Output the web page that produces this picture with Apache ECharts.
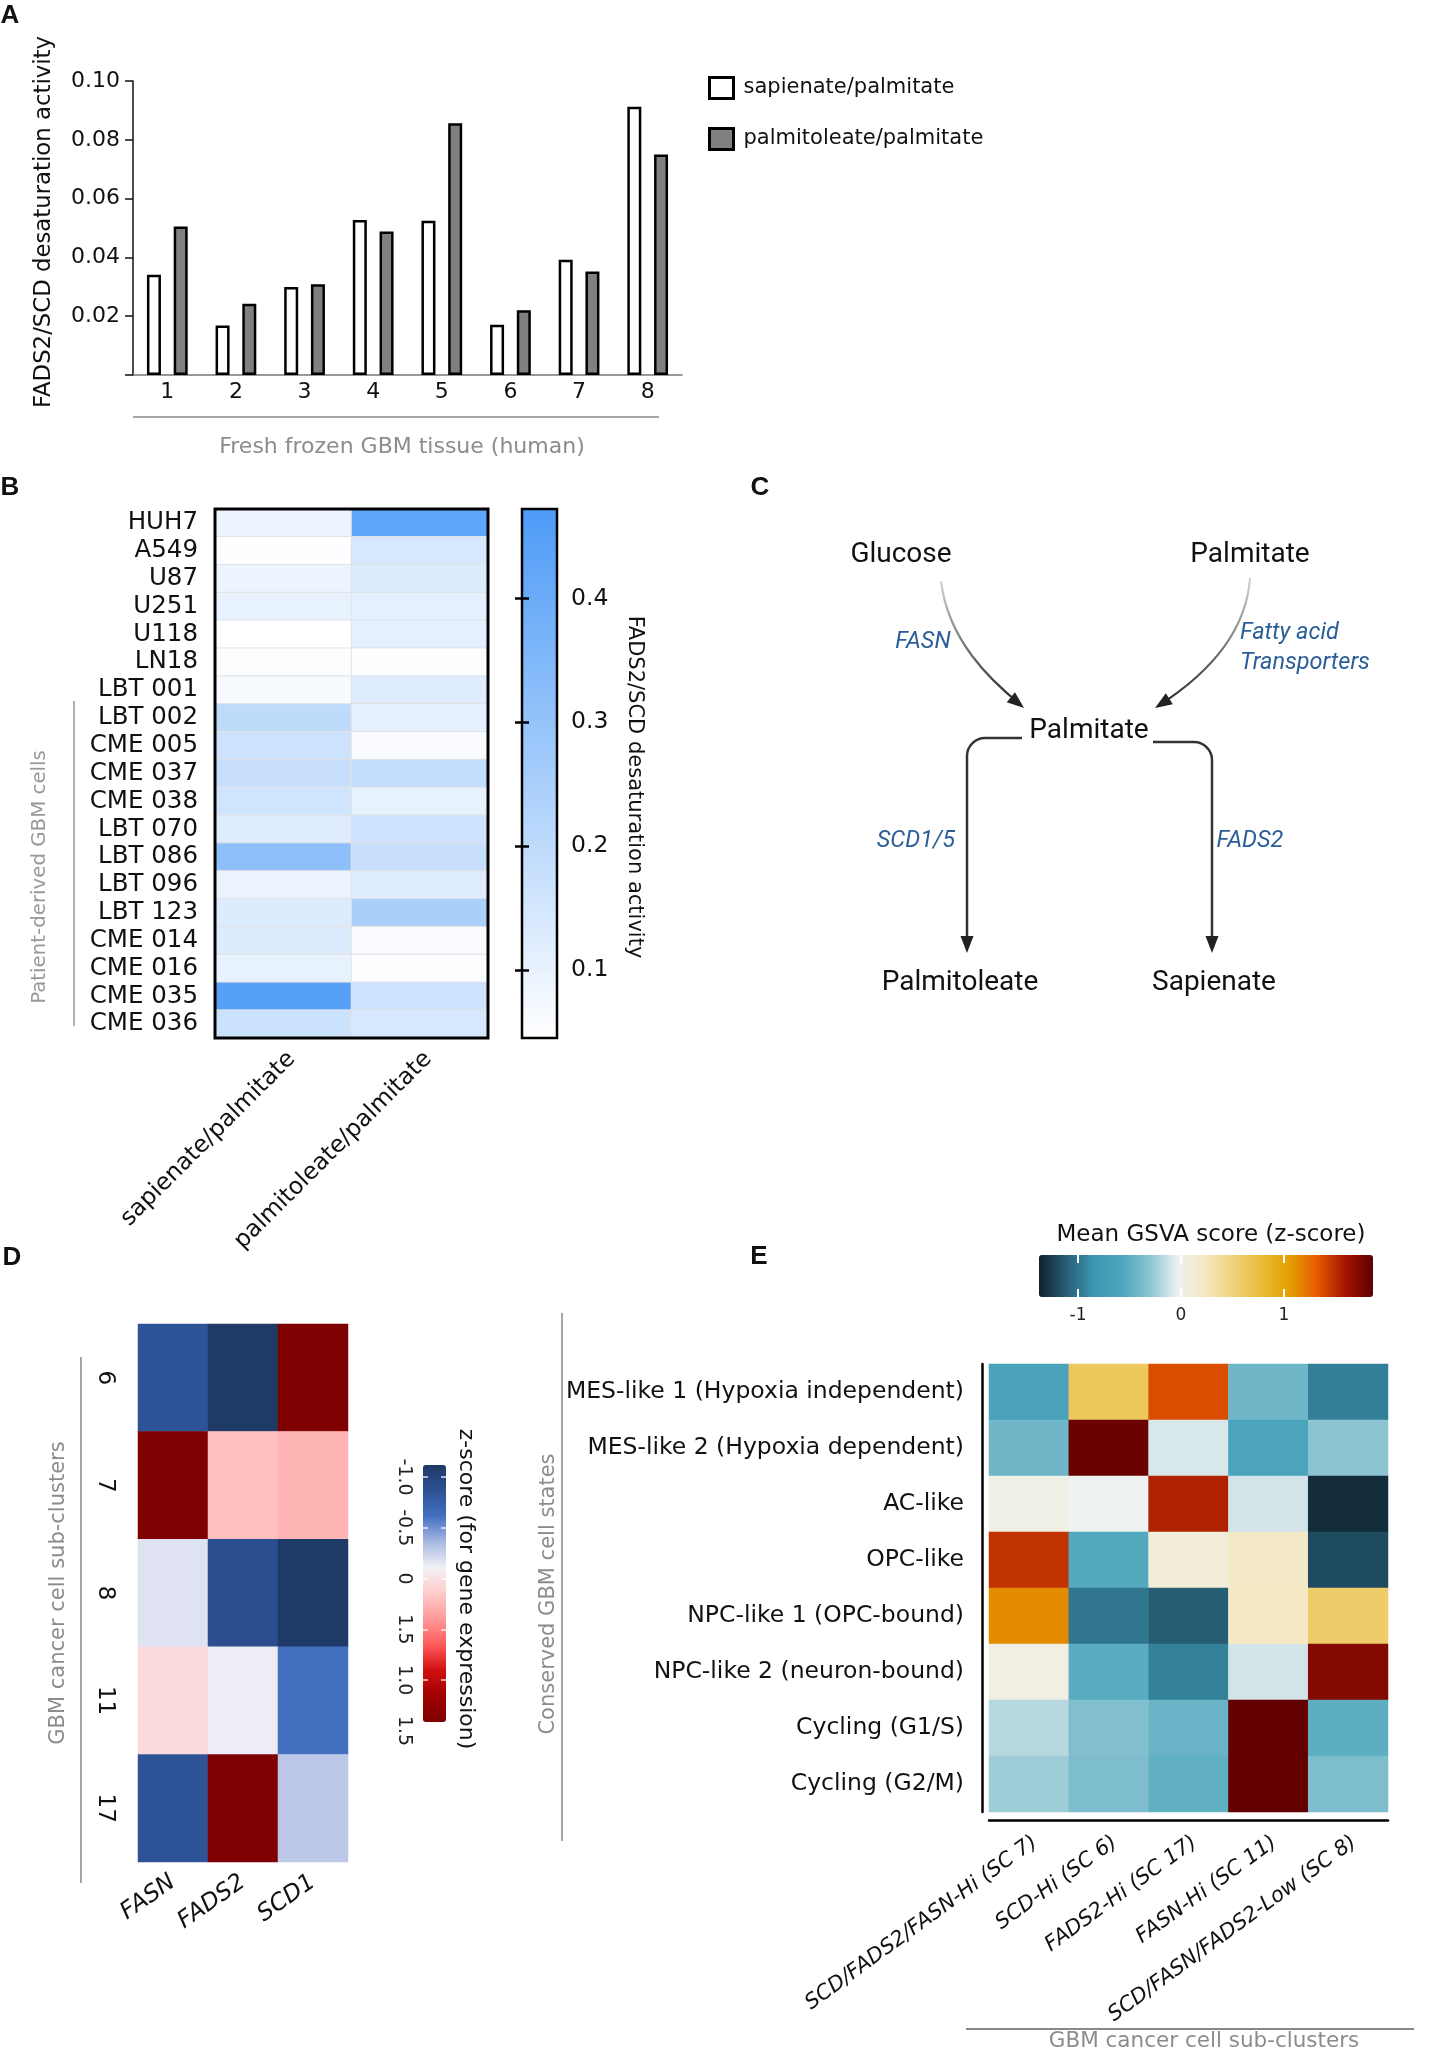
<!DOCTYPE html>
<html>
<head>
<meta charset="utf-8">
<script src="https://cdn.jsdelivr.net/npm/echarts@6/dist/echarts.min.js"></script>
<style>html,body{margin:0;padding:0;background:#fff;}#c{width:1438px;height:2054px;}</style>
</head>
<body>
<div id="c"></div>
<script>
// ---------------- DATA ----------------
// Panel A
const tissueSamples = ['1','2','3','4','5','6','7','8'];
const sapienateTissue = [0.0341, 0.0168, 0.0299, 0.0527, 0.0525, 0.0171, 0.0392, 0.0912];
const palmitoleateTissue = [0.0505, 0.0242, 0.0309, 0.0488, 0.0856, 0.0220, 0.0352, 0.0750];
const seriesNamesA = ['sapienate/palmitate', 'palmitoleate/palmitate'];

// Panel B
const cellLines = ['HUH7','A549','U87','U251','U118','LN18','LBT 001','LBT 002','CME 005','CME 037',
  'CME 038','LBT 070','LBT 086','LBT 096','LBT 123','CME 014','CME 016','CME 035','CME 036'];
const ratioNames = ['sapienate/palmitate', 'palmitoleate/palmitate'];
const sapienateCells = [0.090, 0.050, 0.090, 0.100, 0.045, 0.055, 0.065, 0.200, 0.165, 0.180,
  0.160, 0.125, 0.320, 0.095, 0.130, 0.130, 0.100, 0.450, 0.170];
const palmitoleateCells = [0.430, 0.145, 0.130, 0.110, 0.110, 0.050, 0.125, 0.110, 0.060, 0.190,
  0.100, 0.165, 0.180, 0.125, 0.250, 0.060, 0.050, 0.165, 0.145];

// Panel D
const geneNames = ['FASN', 'FADS2', 'SCD1'];
const subClustersD = ['6', '7', '8', '11', '17'];
const zFASN  = [-0.85, 1.41, -0.17, 0.04, -0.85];
const zFADS2 = [-1.10, 0.20, -0.90, -0.12, 1.41];
const zSCD1  = [1.41, 0.26, -1.10, -0.62, -0.29];
const zTickValues = [-1.0, -0.5, 0, 0.5, 1.0, 1.5];
const zTickLabels = ['-1.0', '-0.5', '0', '1.5', '1.0', '1.5'];

// Panel E
const cellStates = ['MES-like 1 (Hypoxia independent)', 'MES-like 2 (Hypoxia dependent)', 'AC-like',
  'OPC-like', 'NPC-like 1 (OPC-bound)', 'NPC-like 2 (neuron-bound)', 'Cycling (G1/S)', 'Cycling (G2/M)'];
const subClustersE = ['SCD/FADS2/FASN-Hi (SC 7)', 'SCD-Hi (SC 6)', 'FADS2-Hi (SC 17)',
  'FASN-Hi (SC 11)', 'SCD/FASN/FADS2-Low (SC 8)'];
const mesLike1   = [-0.62, 0.63, 1.37, -0.43, -0.96];
const mesLike2   = [-0.43, 1.82, -0.09, -0.60, -0.30];
const acLike     = [0.03, -0.03, 1.54, -0.11, -1.33];
const opcLike    = [1.47, -0.54, 0.10, 0.20, -1.20];
const npcLike1   = [1.13, -1.00, -1.12, 0.22, 0.58];
const npcLike2   = [0.06, -0.52, -0.95, -0.11, 1.72];
const cyclingG1S = [-0.18, -0.35, -0.45, 1.85, -0.50];
const cyclingG2M = [-0.25, -0.36, -0.49, 1.85, -0.36];
const gsvaTicks = [-1, 0, 1];

// ---------------- BUILD ----------------
const heatB = [];
cellLines.forEach((c, i) => { heatB.push([0, i, sapienateCells[i]]); heatB.push([1, i, palmitoleateCells[i]]); });
const heatD = [];
subClustersD.forEach((s, i) => { heatD.push([0, i, zFASN[i]], [1, i, zFADS2[i]], [2, i, zSCD1[i]]); });
const gsvaRows = [mesLike1, mesLike2, acLike, opcLike, npcLike1, npcLike2, cyclingG1S, cyclingG2M];
const heatE = [];
gsvaRows.forEach((row, i) => row.forEach((v, j) => heatE.push([j, i, v])));

const FONT = 'DejaVu Sans';
function txt(x, y, text, o) {
  o = o || {};
  return {
    type: 'text', x: x, y: y, rotation: o.rot || 0, z: 20,
    style: {
      text: text, fill: o.color || '#111', fontSize: o.size || 22, fontFamily: o.family || FONT,
      fontStyle: o.italic ? 'italic' : 'normal', fontWeight: o.bold ? 'bold' : 'normal',
      align: o.align || 'center', verticalAlign: 'middle'
    }
  };
}
function ln(x1, y1, x2, y2, color, w) {
  return { type: 'line', z: 20, shape: { x1: x1, y1: y1, x2: x2, y2: y2 }, style: { stroke: color, lineWidth: w } };
}
function head(tx, ty, fx, fy, len, w) {
  const a = Math.atan2(ty - fy, tx - fx);
  const bx = tx - len * Math.cos(a), by = ty - len * Math.sin(a);
  const px = -Math.sin(a) * w / 2, py = Math.cos(a) * w / 2;
  return { type: 'polygon', z: 21, shape: { points: [[tx, ty], [bx + px, by + py], [bx - px, by - py]] }, style: { fill: '#222' } };
}
function curve(x1, y1, c1x, c1y, c2x, c2y, x2, y2) {
  return {
    type: 'bezierCurve', z: 20,
    shape: { x1: x1, y1: y1, cpx1: c1x, cpy1: c1y, cpx2: c2x, cpy2: c2y, x2: x2, y2: y2 },
    style: {
      fill: 'none', lineWidth: 2.2,
      stroke: { type: 'linear', x: 0, y: 0, x2: 0, y2: 1, colorStops: [{ offset: 0, color: '#d8d8d8' }, { offset: 1, color: '#222' }] }
    }
  };
}
const ROBO = 'Roboto';
const BLUE = '#2b5e98';
const gray = '#8c8c8c';

const graphics = [
  // panel letters
  txt(10, 16, 'A', { bold: true, size: 26, family: 'Liberation Sans' }),
  txt(10, 488, 'B', { bold: true, size: 26, family: 'Liberation Sans' }),
  txt(760, 488, 'C', { bold: true, size: 26, family: 'Liberation Sans' }),
  txt(12, 1258, 'D', { bold: true, size: 26, family: 'Liberation Sans' }),
  txt(759, 1257, 'E', { bold: true, size: 26, family: 'Liberation Sans' }),
  // panel A
  txt(44, 222, 'FADS2/SCD desaturation activity', { rot: Math.PI / 2, size: 22.8 }),
  ln(133, 417, 659, 417, '#888', 1.5),
  txt(402, 447, 'Fresh frozen GBM tissue (human)', { size: 22, color: gray }),
  // panel B
  ln(74, 701, 74, 1026, '#999', 1.5),
  txt(40, 877, 'Patient-derived GBM cells', { rot: Math.PI / 2, size: 19.8, color: '#999' }),
  txt(634, 787, 'FADS2/SCD desaturation activity', { rot: -Math.PI / 2, size: 21 }),
  // panel C
  txt(901, 555, 'Glucose', { family: ROBO, size: 28 }),
  txt(1250, 555, 'Palmitate', { family: ROBO, size: 28 }),
  txt(923, 642, 'FASN', { family: ROBO, size: 23.5, italic: true, color: BLUE }),
  txt(1240, 633, 'Fatty acid', { family: ROBO, size: 23.5, italic: true, color: BLUE, align: 'left' }),
  txt(1240, 663, 'Transporters', { family: ROBO, size: 23.5, italic: true, color: BLUE, align: 'left' }),
  txt(1089, 731, 'Palmitate', { family: ROBO, size: 28 }),
  txt(916, 841, 'SCD1/5', { family: ROBO, size: 23.5, italic: true, color: BLUE }),
  txt(1250, 841, 'FADS2', { family: ROBO, size: 23.5, italic: true, color: BLUE }),
  txt(960, 983, 'Palmitoleate', { family: ROBO, size: 28 }),
  txt(1214, 983, 'Sapienate', { family: ROBO, size: 28 }),
  curve(941, 581, 948, 640, 990, 680, 1021, 705),
  head(1024, 708, 990, 680, 17, 13),
  curve(1250, 578, 1246, 635, 1205, 676, 1158, 706),
  head(1155, 708, 1205, 676, 17, 13),
  ln(1022, 738, 985, 738, '#333', 2.5),
  { type: 'arc', z: 20, shape: { cx: 985, cy: 756, r: 18, startAngle: Math.PI, endAngle: Math.PI * 1.5, clockwise: true }, style: { stroke: '#333', lineWidth: 2.5, fill: 'none' } },
  ln(967, 756, 967, 940, '#333', 2.5),
  head(967, 953, 967, 930, 17, 13),
  ln(1153, 742, 1194, 742, '#333', 2.5),
  { type: 'arc', z: 20, shape: { cx: 1194, cy: 760, r: 18, startAngle: -Math.PI / 2, endAngle: 0, clockwise: true }, style: { stroke: '#333', lineWidth: 2.5, fill: 'none' } },
  ln(1212, 760, 1212, 940, '#333', 2.5),
  head(1212, 953, 1212, 930, 17, 13),
  // panel D
  ln(81, 1357, 81, 1883, '#888', 1.5),
  txt(59, 1593, 'GBM cancer cell sub-clusters', { rot: Math.PI / 2, size: 21, color: gray }),
  txt(466, 1589, 'z-score (for gene expression)', { rot: -Math.PI / 2, size: 22 }),
  // panel E
  txt(1211, 1235, 'Mean GSVA score (z-score)', { size: 23 }),
  ln(562, 1313, 562, 1841, '#888', 1.5),
  txt(549, 1594, 'Conserved GBM cell states', { rot: Math.PI / 2, size: 21, color: gray }),
  ln(966, 2029, 1414, 2029, '#888', 2),
  txt(1204, 2041, 'GBM cancer cell sub-clusters', { size: 21.5, color: gray })
];

const hidden = (g) => ({ type: 'value', gridIndex: g, show: false, min: 0, max: 1 });

const option = {
  animation: false,
  backgroundColor: '#ffffff',
  textStyle: { fontFamily: FONT },
  legend: {
    left: 708, top: 76, orient: 'vertical', itemWidth: 24, itemHeight: 21, itemGap: 27,
    selectedMode: false, padding: 0,
    textStyle: { fontSize: 21, color: '#111', padding: [0, 0, 0, 5] },
    data: [
      { name: seriesNamesA[0], icon: 'rect', itemStyle: { color: '#ffffff', borderColor: '#000', borderWidth: 3 } },
      { name: seriesNamesA[1], icon: 'rect', itemStyle: { color: '#808080', borderColor: '#000', borderWidth: 3 } }
    ]
  },
  grid: [
    { left: 133, top: 81, width: 549, height: 294 },                                   // 0 A
    { left: 215, top: 509, width: 273, height: 529, show: true, borderColor: '#000', borderWidth: 3, z: 5, backgroundColor: 'transparent' }, // 1 B
    { left: 522, top: 598.5, width: 35, height: 371.5, z: 12 },                         // 2 B colorbar ticks
    { left: 138, top: 1324, width: 210, height: 538 },                                  // 3 D
    { left: 423, top: 1477, width: 23, height: 254, z: 12 },                            // 4 D colorbar labels
    { left: 989, top: 1364, width: 399, height: 448 },                                  // 5 E
    { left: 1078, top: 1255, width: 206, height: 42, z: 12 },                           // 6 E colorbar ticks
    { left: 522, top: 509, width: 35, height: 529, show: true, borderColor: '#000', borderWidth: 2.5, z: 12, backgroundColor: 'transparent' } // 7 B colorbar frame
  ],
  xAxis: [
    { type: 'category', gridIndex: 0, data: tissueSamples,
      axisLine: { lineStyle: { color: '#777', width: 1.5 } }, axisTick: { show: false },
      axisLabel: { fontSize: 22, color: '#111', margin: 6 } },
    { type: 'category', gridIndex: 1, data: ratioNames, axisLine: { show: false },
      axisTick: { alignWithLabel: true, length: 6, lineStyle: { color: '#000', width: 2.5 } },
      axisLabel: { rotate: 45, fontSize: 23.5, color: '#111', margin: 9, verticalAlign: 'top', interval: 0 } },
    hidden(2),
    { type: 'category', gridIndex: 3, data: geneNames, axisLine: { show: false }, axisTick: { show: false },
      axisLabel: { rotate: 35, fontSize: 23.5, fontStyle: 'italic', color: '#111', margin: 18, interval: 0 } },
    hidden(4),
    { type: 'category', gridIndex: 5, data: subClustersE, offset: 8,
      axisLine: { lineStyle: { color: '#000', width: 2.5 } },
      axisTick: { alignWithLabel: true, length: 8, lineStyle: { color: '#000', width: 2 } },
      axisLabel: { rotate: 36, fontSize: 21, fontStyle: 'italic', color: '#111', margin: 12, verticalAlign: 'top', interval: 0 } },
    { type: 'value', gridIndex: 6, min: -1, max: 1, interval: 1, position: 'bottom', z: 12,
      axisLine: { show: false }, splitLine: { show: false },
      axisTick: { inside: true, length: 8, lineStyle: { color: '#fff', width: 2 } },
      axisLabel: { fontSize: 17, color: '#222', margin: 10, formatter: (v) => String(gsvaTicks[gsvaTicks.indexOf(v)]) } },
    { type: 'value', gridIndex: 6, min: -1, max: 1, interval: 1, position: 'top', z: 12,
      axisLine: { show: false }, splitLine: { show: false }, axisLabel: { show: false },
      axisTick: { inside: true, length: 8, lineStyle: { color: '#fff', width: 2 } } },
    hidden(7)
  ],
  yAxis: [
    { type: 'value', gridIndex: 0, min: 0, max: 0.1, interval: 0.02,
      axisLine: { show: true, lineStyle: { color: '#111', width: 1.5 } },
      axisTick: { show: true, length: 8, lineStyle: { color: '#111', width: 1.5 } },
      splitLine: { show: false },
      axisLabel: { fontSize: 22, color: '#111', margin: 13, padding: [0, 0, 14, 0],
        formatter: (v) => (v === 0 ? '' : v.toFixed(2)) } },
    { type: 'category', gridIndex: 1, data: cellLines, inverse: true, axisLine: { show: false },
      axisTick: { alignWithLabel: true, length: 7, lineStyle: { color: '#000', width: 2.5 } },
      axisLabel: { fontSize: 24.5, color: '#111', margin: 17, interval: 0 } },
    { type: 'value', gridIndex: 2, min: 0.1, max: 0.4, interval: 0.1, position: 'right', z: 12,
      axisLine: { show: false }, splitLine: { show: false },
      axisTick: { inside: true, length: 7, lineStyle: { color: '#000', width: 2.5 } },
      axisLabel: { fontSize: 23.5, color: '#111', margin: 14, formatter: (v) => v.toFixed(1) } },
    { type: 'value', gridIndex: 2, min: 0.1, max: 0.4, interval: 0.1, position: 'left', z: 12,
      axisLine: { show: false }, splitLine: { show: false }, axisLabel: { show: false },
      axisTick: { inside: true, length: 7, lineStyle: { color: '#000', width: 2.5 } } },
    { type: 'category', gridIndex: 3, data: subClustersD, inverse: true, axisLine: { show: false }, axisTick: { show: false },
      axisLabel: { rotate: -90, fontSize: 23, color: '#111', margin: 22, interval: 0 } },
    { type: 'value', gridIndex: 4, min: -1, max: 1.5, interval: 0.5, inverse: true, position: 'left', z: 12,
      axisLine: { show: false }, splitLine: { show: false },
      axisTick: { inside: true, length: 5, lineStyle: { color: 'rgba(255,255,255,0.85)', width: 1.5 } },
      axisLabel: { rotate: -90, fontSize: 19, color: '#222', margin: 10,
        formatter: (v) => zTickLabels[zTickValues.indexOf(Math.round(v * 2) / 2)] } },
    { type: 'value', gridIndex: 4, min: -1, max: 1.5, interval: 0.5, inverse: true, position: 'right', z: 12,
      axisLine: { show: false }, splitLine: { show: false }, axisLabel: { show: false },
      axisTick: { inside: true, length: 5, lineStyle: { color: 'rgba(255,255,255,0.85)', width: 1.5 } } },
    { type: 'category', gridIndex: 5, data: cellStates, inverse: true, offset: 7,
      axisLine: { lineStyle: { color: '#000', width: 2.5 } },
      axisTick: { alignWithLabel: true, length: 8, lineStyle: { color: '#000', width: 2 } },
      axisLabel: { fontSize: 23.5, color: '#111', margin: 18, interval: 0 } },
    hidden(6),
    hidden(7)
  ],
  visualMap: [
    { type: 'continuous', seriesIndex: 2, min: 0.0447, max: 0.473, orient: 'vertical',
      left: 522, top: 509, itemWidth: 35, itemHeight: 529, padding: 0, calculable: false,
      hoverLink: false, showLabel: false, text: null,
      inRange: { color: ['#ffffff', '#4d9bf7'] } },
    { type: 'continuous', seriesIndex: 3, min: -1.12, max: 1.42, orient: 'vertical', inverse: true,
      left: 423, top: 1465, itemWidth: 23, itemHeight: 257, padding: 0, calculable: false,
      hoverLink: false, showLabel: false, text: null,
      inRange: { color: ['#1f3864', '#2d5294', '#4470c2', '#a7b9e2', '#f2f2f6', '#ffcaca', '#ff9898', '#ff5a5a', '#d01010', '#a00000', '#7e0000'] } },
    { type: 'continuous', seriesIndex: 4, min: -1.38, max: 1.86, orient: 'horizontal',
      left: 1039, top: 1255, itemWidth: 42, itemHeight: 334, padding: 0, calculable: false,
      hoverLink: false, showLabel: false, text: null,
      inRange: { color: ['#10222e', '#275f76', '#3d98b3', '#4ea6bd', '#8cc4d2', '#eef2f1', '#f5e8c0', '#f0d27a', '#e8bb38', '#e4a000', '#e65a00', '#a41400', '#600000'] } }
  ],
  series: [
    { type: 'bar', name: seriesNamesA[0], xAxisIndex: 0, yAxisIndex: 0, data: sapienateTissue,
      barWidth: 14, barGap: '91%', itemStyle: { color: '#ffffff', borderColor: '#000', borderWidth: 2.5 } },
    { type: 'bar', name: seriesNamesA[1], xAxisIndex: 0, yAxisIndex: 0, data: palmitoleateTissue,
      barWidth: 14, barGap: '91%', itemStyle: { color: '#808080', borderColor: '#000', borderWidth: 2.5 } },
    { type: 'heatmap', xAxisIndex: 1, yAxisIndex: 1, data: heatB, z: 1,
      itemStyle: { borderColor: '#e2e2e2', borderWidth: 1 } },
    { type: 'heatmap', xAxisIndex: 3, yAxisIndex: 4, data: heatD },
    { type: 'heatmap', xAxisIndex: 5, yAxisIndex: 7, data: heatE }
  ],
  graphic: { elements: graphics }
};

const chart = echarts.init(document.getElementById('c'), null, { renderer: 'canvas' });
chart.setOption(option);
</script>
</body>
</html>
